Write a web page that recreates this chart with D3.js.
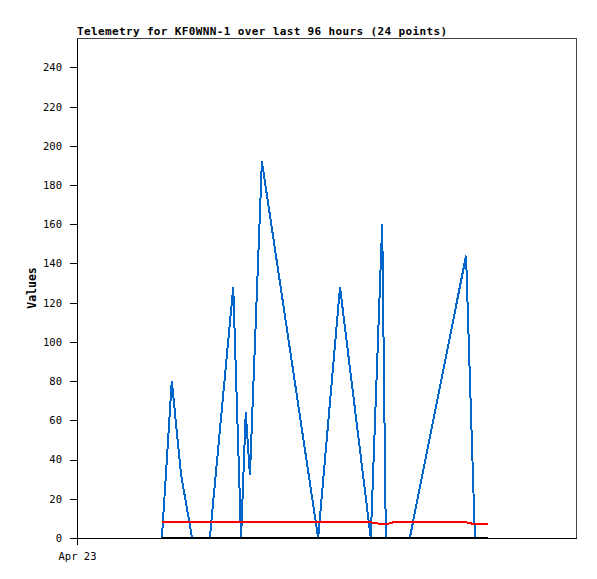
<!DOCTYPE html>
<html>
<head>
<meta charset="utf-8">
<script src="https://cdn.jsdelivr.net/npm/d3@7"></script>
<style>
  body { margin: 0; background: #fff; }
  svg { display: block; }
  text { font-family: "DejaVu Sans Mono", monospace; }
</style>
</head>
<body>
<div id="chart"></div>
<script>
// telemetry samples (time, channel values)
const times = [
  "2024-04-23T16:18", "2024-04-23T18:12", "2024-04-23T20:00", "2024-04-23T22:06",
  "2024-04-24T01:30", "2024-04-24T06:00", "2024-04-24T07:30", "2024-04-24T08:24",
  "2024-04-24T09:12", "2024-04-24T11:30", "2024-04-24T22:18", "2024-04-25T02:30",
  "2024-04-25T08:24", "2024-04-25T10:36", "2024-04-25T11:18", "2024-04-25T12:42",
  "2024-04-25T15:54", "2024-04-26T02:42", "2024-04-26T04:24", "2024-04-26T06:54"
];
const blueVals  = [0, 80, 32, 0, 0, 128, 0, 64, 32, 192, 0, 128, 0, 160, 0, 0, 0, 144, 0, 0];
const redVals   = [8, 8, 8, 8, 8, 8, 8, 8, 8, 8, 8, 8, 8, 7, 7, 8, 8, 8, 7, 7];
const blackVals = [0, 0, 0, 0, 0, 0, 0, 0, 0, 0, 0, 0, 0, 0, 0, 0, 0, 0, 0, 0];
const yTicks = [0, 20, 40, 60, 80, 100, 120, 140, 160, 180, 200, 220, 240];
const xStart = "2024-04-23T00:00";
const xEnd = "2024-04-27T00:00";
const title = "Telemetry for KF0WNN-1 over last 96 hours (24 points)";

const width = 597, height = 579;
const margin = {top: 38, left: 77, right: 20, bottom: 41};

const parse = d3.timeParse("%Y-%m-%dT%H:%M");
const dates = times.map(parse);

const x = d3.scaleTime()
  .domain([parse(xStart), parse(xEnd)])
  .range([margin.left, width - margin.right]);

const y = d3.scaleLinear()
  .domain([0, 255])
  .range([height - margin.bottom, margin.top]);

const svg = d3.select('#chart').append('svg')
  .attr('width', width).attr('height', height);

// frame
svg.append('rect')
  .attr('x', margin.left + 0.5).attr('y', margin.top + 0.5)
  .attr('width', width - margin.left - margin.right - 1)
  .attr('height', height - margin.top - margin.bottom)
  .attr('fill', 'none').attr('stroke', '#444')
  .attr('shape-rendering', 'crispEdges');

const yAxis = g => g
  .attr('transform', `translate(${margin.left}, 0)`)
  .call(d3.axisLeft(y).tickValues(yTicks).tickSize(7).tickPadding(8).tickSizeOuter(0))
  .call(g => g.select('.domain').attr('stroke', '#000'))
  .call(g => g.selectAll('.tick text').attr('font-size', '10.5px')
    .attr('font-family', '"DejaVu Sans Mono", monospace').attr('fill', '#000'));

const xAxis = g => g
  .attr('transform', `translate(0, ${height - margin.bottom})`)
  .call(d3.axisBottom(x).tickValues([parse(xStart)]).tickFormat(d3.timeFormat("%b %d"))
    .tickSize(7).tickPadding(8).tickSizeOuter(0))
  .call(g => g.select('.domain').remove())
  .call(g => g.selectAll('.tick text').attr('font-size', '10.5px')
    .attr('font-family', '"DejaVu Sans Mono", monospace').attr('fill', '#000'));

svg.append('g').call(yAxis).attr('shape-rendering', 'crispEdges');
svg.append('g').call(xAxis).attr('shape-rendering', 'crispEdges');

const line = d3.line()
  .x((d, i) => x(dates[i]))
  .y(d => y(d));

function drawSeries(vals, color) {
  svg.append('path')
    .datum(vals)
    .attr('d', line)
    .attr('fill', 'none')
    .attr('stroke', color)
    .attr('stroke-width', 2)
    .attr('shape-rendering', 'crispEdges');
}
drawSeries(blueVals, '#0066cc');
drawSeries(redVals, '#ff0000');
drawSeries(blackVals, '#000000');

// bottom edge of frame
svg.append('line')
  .attr('x1', margin.left).attr('x2', width - margin.right)
  .attr('y1', y(0) + 0.5).attr('y2', y(0) + 0.5)
  .attr('stroke', '#000').attr('shape-rendering', 'crispEdges');

svg.append('text')
  .attr('x', margin.left).attr('y', 35)
  .attr('font-size', '11px').attr('font-weight', 'bold')
  .attr('textLength', 370).attr('lengthAdjust', 'spacing')
  .text(title);

svg.append('text')
  .attr('transform', `translate(36, ${(margin.top + height - margin.bottom) / 2}) rotate(-90)`)
  .attr('text-anchor', 'middle')
  .attr('font-size', '11.5px').attr('font-weight', 'bold')
  .text('Values');
</script>
</body>
</html>
